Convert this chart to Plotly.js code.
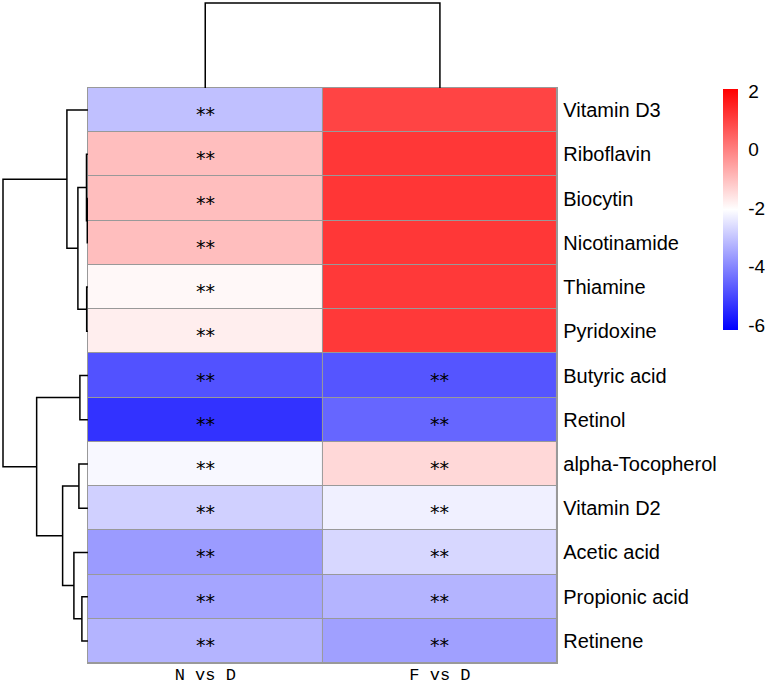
<!DOCTYPE html>
<html><head><meta charset="utf-8">
<script src="https://cdn.plot.ly/plotly-3.0.1.min.js"></script>
<style>body{margin:0;background:#fff}</style>
</head><body><div id="chart" style="width:765px;height:685px"></div>
<script>
const rowLabels = ['Vitamin D3','Riboflavin','Biocytin','Nicotinamide','Thiamine','Pyridoxine','Butyric acid','Retinol','alpha-Tocopherol','Vitamin D2','Acetic acid','Propionic acid','Retinene'];
const colLabels = ['N vs D','F vs D'];
const nVsD = [-3.07,-1.0,-1.0,-1.0,-1.94,-1.77,-4.85,-5.36,-2.16,-2.81,-3.67,-3.50,-3.26];
const fVsD = [0.97,1.18,1.2,1.18,1.15,1.15,-4.80,-4.52,-1.42,-2.29,-2.70,-3.26,-3.58];
const sigN = ['**','**','**','**','**','**','**','**','**','**','**','**','**'];
const sigF = ['','','','','','','**','**','**','**','**','**','**'];
const colorTicks = [2,0,-2,-4,-6];
// row dendrogram (hclust-style merges; negative = leaf number, positive = earlier merge)
const rowMergeA = [-3,-2,-5,2,-1,-7,-9,-12,-11,7,6,5];
const rowMergeB = [-4,1,-6,3,4,-8,-10,-13,8,9,10,11];
const rowMergeH = [0.6,1.4,1.2,10,21,8,9,6,14,25.3,51.3,85];
// column dendrogram
const colMergeA = [-1];
const colMergeB = [-2];
const colMergeH = [85];

function dendro(A,B,H){
  const pos=[], hgt=[], p=[], h=[];
  function node(k){ return k<0 ? [(-k)-1,0] : [pos[k-1],hgt[k-1]]; }
  for(let i=0;i<A.length;i++){
    const a=node(A[i]), b=node(B[i]);
    pos.push((a[0]+b[0])/2); hgt.push(H[i]);
    p.push(a[0],a[0],b[0],b[0],null);
    h.push(a[1],H[i],H[i],b[1],null);
  }
  return {p,h};
}
const rd = dendro(rowMergeA,rowMergeB,rowMergeH);
const cd = dendro(colMergeA,colMergeB,colMergeH);

const z = rowLabels.map((_,i)=>[nVsD[i],fVsD[i]]);
const rowIdx = rowLabels.map((_,i)=>i);
const colIdx = colLabels.map((_,i)=>i);

const W=765,Hh=685;
const L=88,R=558,T=88,Bt=663;

const heat = {
  type:'heatmap', z:z, x:colIdx, y:rowIdx,
  xgap:1, ygap:1, zmin:-6.17, zmax:2.07,
  colorscale:[[0,'rgb(0,0,255)'],[0.5,'rgb(255,255,255)'],[1,'rgb(255,0,0)']],
  hoverinfo:'skip',
  colorbar:{thickness:15, lenmode:'pixels', len:241, y:1-89/Hh, yanchor:'top',
    x:723/W, xanchor:'left', xpad:0, ypad:0, outlinewidth:0,
    tickvals:colorTicks, ticktext:colorTicks.map(String), ticks:'outside', ticklen:7, tickcolor:'rgba(0,0,0,0)',
    tickfont:{size:19,color:'#000',family:'Liberation Sans'}}
};
const rowTree = {type:'scatter', mode:'lines', x:rd.h, y:rd.p, xaxis:'x2', yaxis:'y',
  line:{color:'#000',width:1.5}, hoverinfo:'skip', showlegend:false, connectgaps:false};
const colTree = {type:'scatter', mode:'lines', x:cd.p, y:cd.h, xaxis:'x', yaxis:'y3',
  line:{color:'#000',width:1.5}, hoverinfo:'skip', showlegend:false, connectgaps:false};

const annotations = [];
[sigN, sigF].forEach((arr,c)=>arr.forEach((s,r)=>{
  if(s) annotations.push({x:colIdx[c], y:rowIdx[r], xref:'x', yref:'y', text:s, showarrow:false,
    yshift:-4, font:{family:'DejaVu Sans', size:19, color:'#000'}});
}));

const layout = {
  width:W, height:Hh, margin:{l:0,r:0,t:0,b:0}, paper_bgcolor:'#fff', plot_bgcolor:'#fff',
  font:{family:'Liberation Sans',color:'#000'},
  showlegend:false,
  annotations:annotations,
  shapes:[{type:'rect', xref:'x domain', yref:'y domain', x0:0, x1:1, y0:0, y1:1, layer:'below',
    fillcolor:'#999', line:{width:0}}],
  xaxis:{domain:[L/W,R/W], range:[-0.5,1.5], tickvals:colIdx, ticktext:colLabels, ticks:'', showgrid:false, zeroline:false,
    ticklabelstandoff:-4, tickfont:{family:'Liberation Mono',size:17,color:'#000'}, showline:true, linecolor:'#999', linewidth:1, mirror:true, anchor:'y', fixedrange:true},
  yaxis:{domain:[1-Bt/Hh,1-T/Hh], range:[12.5,-0.5], tickvals:rowIdx, ticktext:rowLabels, side:'right', ticks:'', showgrid:false, zeroline:false,
    ticklabelstandoff:1, tickfont:{size:20,color:'#000'}, showline:true, linecolor:'#999', linewidth:1, mirror:true, anchor:'x', fixedrange:true},
  xaxis2:{domain:[0,L/W], range:[88,0], visible:false, anchor:'y', fixedrange:true},
  yaxis3:{domain:[1-T/Hh,1], range:[0,88], visible:false, anchor:'x', fixedrange:true}
};
Plotly.newPlot('chart',[heat,rowTree,colTree],layout,{displayModeBar:false,staticPlot:true});
</script></body></html>
